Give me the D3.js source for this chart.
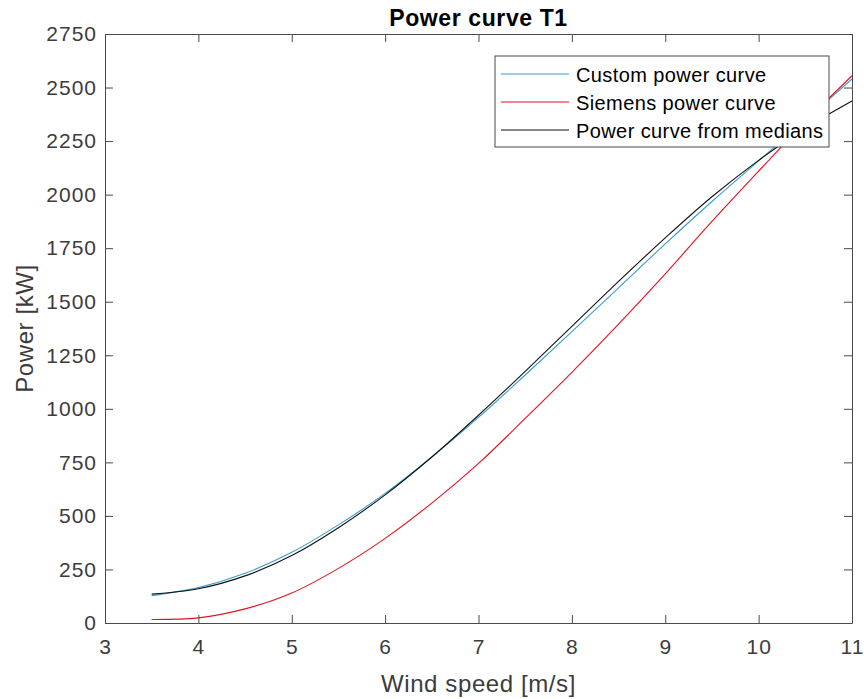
<!DOCTYPE html>
<html>
<head>
<meta charset="utf-8">
<script src="https://cdn.jsdelivr.net/npm/d3@7"></script>
<style>
  html, body { margin: 0; padding: 0; background: #fff; }
  svg { display: block; font-family: Arial, "Liberation Sans", Helvetica, sans-serif; }
</style>
</head>
<body>
<svg id="chart" width="864" height="699"></svg>
<script>
// Wind speed samples [m/s]
const windSpeed = [3.5, 4.0, 4.5, 5.0, 5.5, 6.0, 6.5, 7.0, 7.5, 8.0, 8.5, 9.0, 9.5, 10.0, 10.5, 11.0];

// Power [kW] for each curve
const customPower  = [128, 165, 232, 330, 458, 605, 775, 960, 1158, 1360, 1565, 1770, 1968, 2158, 2348, 2540];
const siemensPower = [16, 24, 66, 140, 255, 395, 560, 745, 955, 1170, 1395, 1630, 1875, 2110, 2340, 2555];
const medianPower  = [135, 160, 220, 315, 445, 598, 775, 970, 1175, 1385, 1595, 1798, 1990, 2160, 2310, 2437];

const xTicks = [3, 4, 5, 6, 7, 8, 9, 10, 11];
const yTicks = [0, 250, 500, 750, 1000, 1250, 1500, 1750, 2000, 2250, 2500, 2750];

const seriesNames  = ["Custom power curve", "Siemens power curve", "Power curve from medians"];
const seriesValues = [customPower, siemensPower, medianPower];
const seriesColors = ["#3a9ccc", "#e2131f", "#111111"];

const svg = d3.select("#chart");
const margin = { left: 105, right: 12, top: 34, bottom: 76 };
const W = 864, H = 699;
const x = d3.scaleLinear().domain([3, 11]).range([margin.left, W - margin.right]);
const y = d3.scaleLinear().domain([0, 2750]).range([H - margin.bottom, margin.top]);

const axisColor = "#4a4a4a";
const textColor = "#3c3c3c";
const tickLen = 8;

// Curves
const line = d3.line().x(d => x(d[0])).y(d => y(d[1])).curve(d3.curveCatmullRom.alpha(0.5));
const plot = svg.append("g");
seriesValues.forEach((vals, i) => {
  plot.append("path")
    .datum(windSpeed.map((w, j) => [w, vals[j]]))
    .attr("fill", "none")
    .attr("stroke", seriesColors[i])
    .attr("stroke-width", 1.1)
    .attr("d", line);
});

// Axes with inward ticks, mirrored on top and right
function styleAxis(g) {
  g.select(".domain").attr("stroke", axisColor).attr("stroke-width", 1);
  g.selectAll(".tick line").attr("stroke", axisColor).attr("stroke-width", 1);
  g.selectAll(".tick text").attr("fill", textColor)
    .style("font-size", "21px").style("letter-spacing", "1px");
}

svg.append("g")
  .attr("transform", `translate(0,${y(0)})`)
  .call(d3.axisBottom(x).tickValues(xTicks).tickFormat(d3.format("d")).tickSizeInner(-tickLen).tickSizeOuter(0).tickPadding(16))
  .call(styleAxis);

svg.append("g")
  .attr("transform", `translate(0,${y(2750)})`)
  .call(d3.axisTop(x).tickValues(xTicks).tickFormat("").tickSizeInner(-tickLen).tickSizeOuter(0))
  .call(styleAxis);

svg.append("g")
  .attr("transform", `translate(${x(3)},0)`)
  .call(d3.axisLeft(y).tickValues(yTicks).tickFormat(d3.format("d")).tickSizeInner(-tickLen).tickSizeOuter(0).tickPadding(8))
  .call(styleAxis);

svg.append("g")
  .attr("transform", `translate(${x(11)},0)`)
  .call(d3.axisRight(y).tickValues(yTicks).tickFormat("").tickSizeInner(-tickLen).tickSizeOuter(0))
  .call(styleAxis);

// Title and axis labels
svg.append("text")
  .attr("x", (x(3) + x(11)) / 2).attr("y", 26)
  .attr("text-anchor", "middle")
  .style("font-size", "23px").style("font-weight", "bold").style("letter-spacing", "0.6px")
  .attr("fill", "#000")
  .text("Power curve T1");

svg.append("text")
  .attr("x", (x(3) + x(11)) / 2).attr("y", 692)
  .attr("text-anchor", "middle")
  .style("font-size", "24px").style("letter-spacing", "0.6px")
  .attr("fill", textColor)
  .text("Wind speed [m/s]");

svg.append("text")
  .attr("transform", `translate(33,${(y(0) + y(2750)) / 2}) rotate(-90)`)
  .attr("text-anchor", "middle")
  .style("font-size", "24px").style("letter-spacing", "0.6px")
  .attr("fill", textColor)
  .text("Power [kW]");

// Legend
const legend = svg.append("g").attr("transform", "translate(495,56)");
legend.append("rect")
  .attr("width", 334).attr("height", 91)
  .attr("fill", "#fff").attr("stroke", axisColor).attr("stroke-width", 1);
seriesNames.forEach((name, i) => {
  const ly = 18 + i * 28;
  legend.append("line")
    .attr("x1", 6).attr("x2", 74).attr("y1", ly).attr("y2", ly)
    .attr("stroke", seriesColors[i]).attr("stroke-width", 1.1);
  legend.append("text")
    .attr("x", 81).attr("y", ly + 8)
    .style("font-size", "20px").style("letter-spacing", "0.4px")
    .attr("fill", "#000")
    .text(name);
});
</script>
</body>
</html>
